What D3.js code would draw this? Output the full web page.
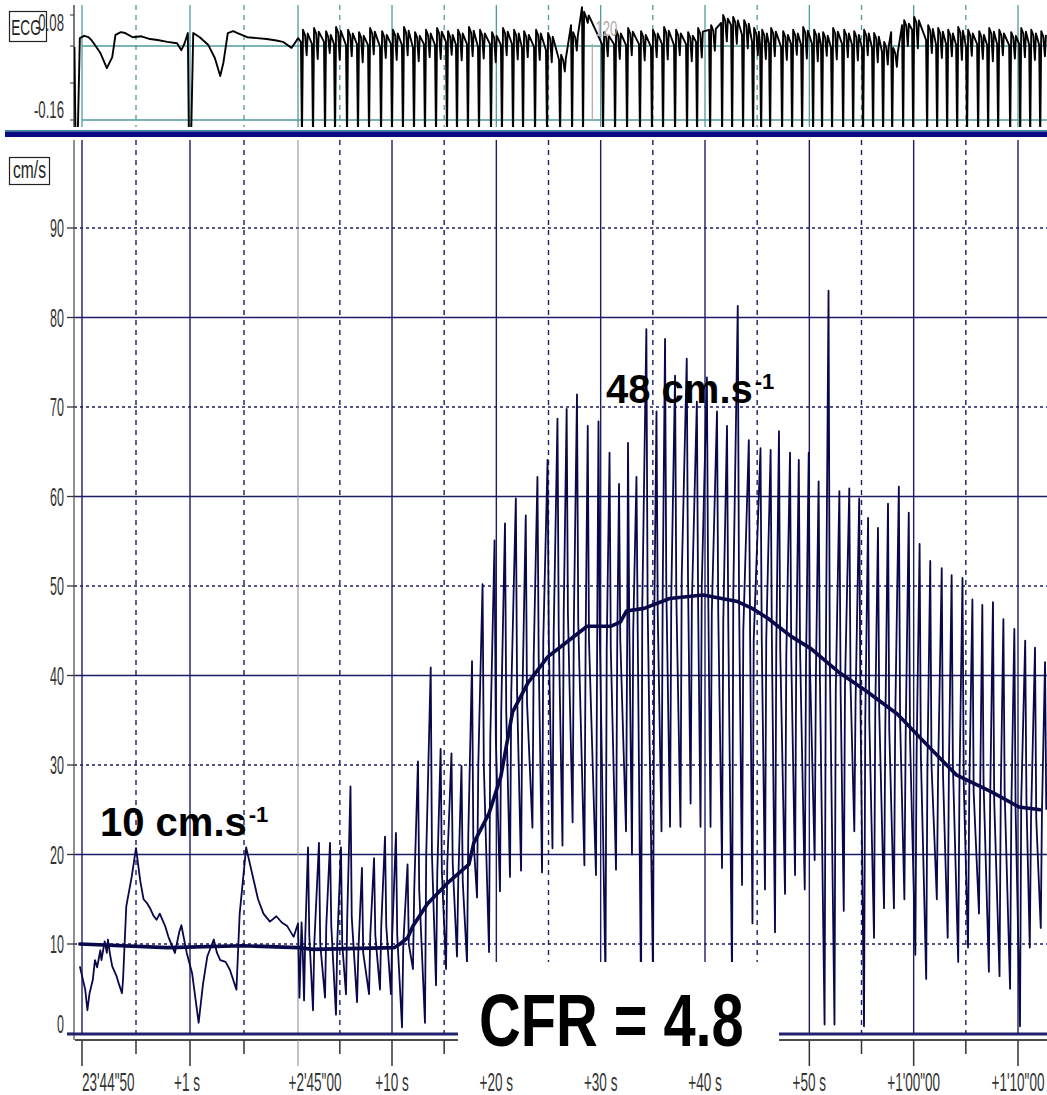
<!DOCTYPE html>
<html><head><meta charset="utf-8">
<script src="https://cdn.jsdelivr.net/npm/d3@7"></script>
<style>body{margin:0;background:#fff;} svg{display:block;}</style>
</head><body>
<svg id="c" width="1047" height="1095"></svg>
<script>
// ---------------- DATA ----------------
// time axis (display seconds; a break follows t = 2)
const majorTicks = [0, 1, 2, 12, 22, 32, 42, 52, 62, 72];
const majorLabels = ["23'44\"50", "+1 s", "+2'45\"00", "+10 s", "+20 s", "+30 s", "+40 s", "+50 s", "+1'00\"00", "+1'10\"00"];
const minorTicks = [0.5, 1.5, 7, 17, 27, 37, 47, 57, 67];
const velTicks = [0, 10, 20, 30, 40, 50, 60, 70, 80, 90];
const ecgTicks = [0.08, 0, -0.08, -0.16];

// Doppler velocity trace before the break [t, cm/s]
const flowPre = [[-0.02,7.5],[0.03,4.9],[0.05,2.6],[0.07,4.5],[0.1,6.0],[0.12,8.2],[0.14,7.4],[0.17,9.3],[0.18,8.2],[0.21,10.3],[0.23,9.0],[0.24,10.5],[0.26,8.8],[0.28,7.5],[0.32,6.4],[0.34,5.6],[0.37,4.5],[0.38,6.0],[0.41,14.2],[0.46,17.5],[0.5,20.7],[0.54,17.0],[0.57,15.0],[0.6,14.6],[0.63,14.0],[0.66,13.2],[0.69,12.7],[0.72,13.4],[0.77,12.0],[0.8,10.8],[0.86,9.0],[0.9,11.3],[0.92,12.1],[0.97,9.0],[1.02,6.7],[1.08,1.2],[1.12,5.5],[1.16,8.6],[1.22,10.5],[1.25,9.0],[1.28,8.2],[1.33,8.0],[1.37,7.1],[1.43,4.9],[1.46,13.4],[1.52,20.8],[1.59,17.1],[1.63,15.0],[1.68,13.4],[1.74,12.5],[1.8,13.1],[1.85,12.4],[1.9,12.0],[1.96,10.8],[2.0,12.3]];
// Doppler beats after the break [trough t, trough cm/s, peak t, peak cm/s, mid-level cm/s]
const flowBeats = [
[3.13,4.0,3.33,12.4,9],[3.57,3.7,3.95,20.8,11],[4.43,2.6,5.00,21.3,10],[5.58,4.0,6.06,21.3,12],[6.63,2.1,7.11,20.8,10],
[7.59,4.4,8.02,27.6,13],[8.65,3.5,9.12,18.5,9],[9.80,4.4,10.28,19.6,11],[10.85,4.9,11.33,22.0,12],[11.90,4.4,12.38,22.4,11],
[12.96,0.7,13.49,18.9,10],[14.01,7.2,14.49,30.4,16],[15.16,1.2,15.71,40.9,20],[16.22,5.4,16.66,31.8,18],[17.18,7.2,17.70,31.3,19],
[18.23,8.6,18.66,29.9,17],[19.19,7.9,19.67,41.6,22],[20.15,15.2,20.68,50.2,30],[21.30,9.1,21.83,55.1,33],[22.35,15.9,22.83,57.0,36],
[23.31,17.5,23.87,59.8,38],[24.37,18.2,24.82,57.9,37],[25.46,23.0,25.94,62.2,42],[26.38,18.0,26.91,64.1,44],[27.38,20.7,27.86,68.7,45],
[28.34,21.0,28.74,69.8,47],[29.31,23.6,29.73,71.4,46],[30.44,18.8,30.76,67.9,44],[31.55,17.7,31.79,68.4,45],[32.46,6.0,32.85,64.9,43],
[33.47,18.3,33.76,61.4,44],[34.43,22.6,34.62,66.0,46],[35.00,20.0,35.43,62.2,45],[35.87,4.0,36.38,78.7,48],[37.02,6.0,37.35,69.5,47],
[37.83,22.6,38.17,77.6,50],[38.65,23.1,39.13,73.5,49],[39.65,23.1,40.25,75.4,51],[40.62,25.7,41.22,70.6,48],[41.57,23.1,42.18,73.3,50],
[42.53,23.1,43.15,69.5,47],[43.63,18.5,44.11,67.9,46],[44.59,6.0,45.14,81.3,49],[45.55,16.6,46.20,66.3,45],[46.55,12.3,47.32,65.4,44],
[47.75,16.1,48.29,65.2,44],[48.71,11.3,49.09,67.3,43],[49.67,15.6,50.15,64.9,42],[50.63,17.7,50.99,64.1,43],[51.56,16.1,51.94,64.9,41],
[52.51,19.4,52.89,61.7,40],[53.46,1.0,53.84,83.0,42],[54.41,1.0,54.88,60.6,38],[55.30,13.7,55.83,60.9,39],[56.31,22.6,56.78,59.8,37],
[57.24,0.8,57.63,57.6,35],[58.20,10.7,58.58,56.5,36],[59.16,14.0,59.54,59.2,34],[60.11,14.0,60.58,61.1,35],[61.11,15.0,61.53,58.2,33],
[62.16,8.8,62.57,54.7,31],[63.20,6.1,63.59,52.8,30],[64.22,15.0,64.69,52.0,29],[65.26,10.7,65.64,51.2,30],[66.27,8.0,66.68,50.9,28],
[67.21,9.6,67.63,48.5,27],[68.26,13.4,68.58,47.9,28],[69.21,6.9,69.60,48.2,26],[70.23,6.4,70.60,46.3,27],[71.24,5.0,71.65,45.2,25],
[72.19,0.8,72.69,43.9,26],[73.13,9.6,73.63,43.1,24],[74.18,11.8,74.59,41.5,25]];
// mean velocity [t, cm/s]
const meanFlow = [[-0.02,10.0],[0.79,9.6],[1.49,9.8],[2.0,9.6],[4.43,9.4],[12.23,9.6],[12.77,10.0],[13.5,10.7],[14.01,12.0],
[15.4,14.5],[17.31,16.8],[19.37,18.9],[19.84,21.3],[21.3,24.6],[22.43,28.7],[23.55,35.9],[25.04,39.2],[26.95,42.1],
[28.82,43.8],[30.7,45.5],[32.96,45.5],[33.9,46.0],[34.47,47.2],[36.16,47.5],[38.61,48.6],[41.81,49.0],[45.01,48.3],
[46.52,47.5],[48.02,46.4],[50.22,44.4],[52.15,43.0],[54.79,40.4],[57.42,38.3],[60.43,35.7],[63.07,32.5],[66.08,28.9],
[69.46,27.0],[72.1,25.3],[74.11,25.0]];
// ECG before the break [t, mV]
const ecgPre = [[-0.07,-0.002],[-0.06,-0.2],[-0.04,-0.2],[-0.02,0.017],[0.02,0.022],[0.06,0.019],[0.09,0.012],[0.12,0.002],[0.17,-0.015],[0.23,-0.048],
[0.28,-0.024],[0.31,0.024],[0.36,0.030],[0.4,0.028],[0.47,0.019],[0.55,0.021],[0.63,0.015],[0.7,0.013],[0.79,0.009],[0.88,0.006],[0.92,-0.009],[0.95,0.006],
[0.98,0.028],[0.99,-0.2],[1.01,-0.2],[1.03,0.028],[1.09,0.019],[1.17,0.002],[1.23,-0.026],[1.28,-0.065],[1.31,-0.035],
[1.35,0.028],[1.4,0.032],[1.44,0.028],[1.53,0.019],[1.62,0.017],[1.71,0.015],[1.8,0.012],[1.86,0.009],[1.94,-0.004],[1.97,0.006],[2.0,0.017]];
// ECG beats after the break [R time, level after R, T-dip level, level before next R]
const ecgBeats = [
[3.37,0.035,-0.020,0.009],[4.43,0.039,-0.028,0.004],[5.58,0.032,-0.015,0.009],[6.54,0.041,-0.030,0.004],[7.69,0.035,-0.022,0.002],[8.74,0.030,-0.035,0.004],
[9.80,0.039,-0.018,0.002],[10.95,0.032,-0.026,-0.002],[12.00,0.035,-0.030,0.004],[13.05,0.041,-0.020,0.002],[14.11,0.030,-0.033,-0.004],[15.16,0.035,-0.024,0.004],
[16.22,0.039,-0.028,0.002],[17.27,0.032,-0.019,0.009],[18.23,0.035,-0.031,0.002],[19.28,0.041,-0.022,0.004],[20.34,0.035,-0.027,-0.002],[21.49,0.030,-0.035,0.004],
[22.54,0.039,-0.020,0.002],[23.60,0.035,-0.029,0.004],[24.56,0.032,-0.024,-0.004],[25.71,0.035,-0.030,-0.002],[26.86,0.028,-0.035,-0.009],[28.11,-0.019,-0.055,-0.030],
[29.26,0.030,-0.010,0.045],[30.31,0.074,0.050,0.084],[32.23,0.030,-0.022,0.004],[33.38,0.035,-0.028,0.004],[34.53,0.039,-0.020,0.002],[35.77,0.032,-0.031,0.004],
[36.92,0.035,-0.024,-0.002],[37.98,0.041,-0.029,0.004],[39.13,0.035,-0.020,0.002],[40.28,0.030,-0.033,0.004],[41.24,0.039,-0.025,0.009],[42.49,0.045,-0.010,0.035],
[43.64,0.067,0.010,0.050],[44.60,0.063,0.005,0.045],[45.65,0.056,-0.005,0.024],[46.61,0.039,-0.020,0.009],[47.38,0.035,-0.028,0.002],[48.24,0.039,-0.022,0.004],
[49.39,0.032,-0.030,-0.002],[50.35,0.035,-0.019,0.004],[51.31,0.041,-0.027,0.002],[52.36,0.035,-0.033,0.004],[53.22,0.030,-0.021,0.002],[54.18,0.039,-0.029,-0.004],
[55.24,0.035,-0.024,0.004],[56.20,0.032,-0.031,0.002],[57.15,0.035,-0.020,-0.004],[58.11,0.028,-0.035,-0.004],[59.07,0.009,-0.040,-0.013],[59.94,-0.004,-0.045,0.030],
[60.99,0.056,0.000,0.045],[61.95,0.063,-0.005,0.035],[63.29,0.045,-0.015,0.013],[64.25,0.039,-0.026,0.002],[65.21,0.035,-0.022,0.004],[66.17,0.041,-0.030,0.002],
[67.12,0.035,-0.021,-0.002],[68.18,0.032,-0.028,0.004],[69.14,0.039,-0.033,0.002],[70.10,0.035,-0.020,0.004],[71.25,0.030,-0.027,0.002],[72.21,0.039,-0.024,0.004],
[73.17,0.035,-0.030,0.002],[74.13,0.032,-0.022,0.002]];
const markerT = 31.2, markerLabel = "120";

// ---------------- DRAW ----------------
const svg = d3.select('#c');
const NAVY = '#1c1c64', TRACE = '#08084a', TEAL = '#4f9b9e';
const FONT = '"Liberation Sans", Arial, sans-serif';

const x = d3.scaleLinear().domain([0, 2, 2.99, 72]).range([82, 298, 298, 1018]);
const y = d3.scaleLinear().domain([0, 90]).range([1033.5, 228]);
const ye = d3.scaleLinear().domain([-0.16, 0]).range([120, 46]);

const defs = svg.append('defs');
defs.append('clipPath').attr('id', 'cm').append('rect').attr('x', 74).attr('y', 140).attr('width', 973).attr('height', 894);
defs.append('clipPath').attr('id', 'ce').append('rect').attr('x', 74).attr('y', 4).attr('width', 973).attr('height', 123);

function ctext(g, px, py, txt, anchor, sx, size, fill) {
  return g.append('text').attr('transform', `translate(${px},${py}) scale(${sx},1)`)
    .attr('text-anchor', anchor).attr('font-family', FONT).attr('font-size', size)
    .attr('fill', fill || '#333').text(txt);
}

// ===== ECG panel =====
const ge = svg.append('g');
majorTicks.forEach((t) => {
  ge.append('line').attr('x1', x(t)).attr('x2', x(t)).attr('y1', 5).attr('y2', 127)
    .attr('stroke', TEAL).attr('stroke-width', 1.3);
});
minorTicks.forEach(t => {
  ge.append('line').attr('x1', x(t)).attr('x2', x(t)).attr('y1', 5).attr('y2', 127)
    .attr('stroke', TEAL).attr('stroke-width', 1.3).attr('stroke-dasharray', '5,5');
});
[0, -0.16].forEach(v => {
  ge.append('line').attr('x1', 82).attr('x2', 1047).attr('y1', ye(v)).attr('y2', ye(v))
    .attr('stroke', TEAL).attr('stroke-width', 1.5);
});
ge.append('line').attr('x1', 74).attr('x2', 74).attr('y1', 5).attr('y2', 127).attr('stroke', '#333').attr('stroke-width', 1.3);
ecgTicks.forEach(v => {
  const py = Math.max(15, ye(v));
  ge.append('line').attr('x1', 70).attr('x2', 74).attr('y1', py).attr('y2', py).attr('stroke', '#333');
});
ctext(ge, 64, 31, '0.08', 'end', 0.55, 24);
ctext(ge, 64, 118, '-0.16', 'end', 0.55, 24);
ge.append('rect').attr('x', 9.5).attr('y', 11.5).attr('width', 37).attr('height', 30).attr('fill', 'none').attr('stroke', '#222').attr('stroke-width', 1.2);
ctext(ge, 26, 35, 'ECG', 'middle', 0.62, 22, '#222');

// ECG trace
const ecgPts = ecgPre.slice();
ecgBeats.forEach(b => {
  ecgPts.push([b[0] - 0.1, b[3]]);
  ecgPts.push([b[0], -0.2]);
  ecgPts.push([b[0] + 0.1, b[1]]);
  ecgPts.push([b[0] + 0.3, b[1] - 0.012]);
  ecgPts.push([b[0] + 0.45, b[2]]);
  ecgPts.push([b[0] + 0.55, b[1] - 0.008]);
});
ge.append('path').attr('clip-path', 'url(#ce)')
  .attr('d', d3.line().x(d => x(d[0])).y(d => ye(d[1]))(ecgPts))
  .attr('fill', 'none').attr('stroke', '#000').attr('stroke-width', 1.9).attr('stroke-linejoin', 'round');

// marker
ge.append('line').attr('x1', x(markerT)).attr('x2', x(markerT)).attr('y1', 44).attr('y2', 120).attr('stroke', '#b9aaaa').attr('stroke-width', 1.3);
ctext(ge, x(markerT) + 3, 36, markerLabel, 'start', 0.6, 22, '#b9aaaa');

// separator
svg.append('rect').attr('x', 5).attr('y', 130).attr('width', 1042).attr('height', 1.5).attr('fill', '#3b8c9a');
svg.append('rect').attr('x', 5).attr('y', 131.5).attr('width', 1042).attr('height', 5.5).attr('fill', '#0a0a82');

// ===== Main panel =====
const gm = svg.append('g');
velTicks.forEach(v => {
  if (v === 0) return;
  const solid = v % 20 === 0;
  gm.append('line').attr('x1', 74).attr('x2', 1047).attr('y1', y(v)).attr('y2', y(v))
    .attr('stroke', NAVY).attr('stroke-width', solid ? 1.7 : 1.5)
    .attr('stroke-dasharray', solid ? null : '3,3');
});
majorTicks.forEach((t, i) => {
  gm.append('line').attr('x1', x(t)).attr('x2', x(t)).attr('y1', 140).attr('y2', 1033)
    .attr('stroke', i === 2 ? '#8585a8' : NAVY).attr('stroke-width', i === 2 ? 1 : 1.4);
});
minorTicks.forEach(t => {
  gm.append('line').attr('x1', x(t)).attr('x2', x(t)).attr('y1', 140).attr('y2', 1033)
    .attr('stroke', NAVY).attr('stroke-width', 1.4).attr('stroke-dasharray', '5,5');
});
gm.append('line').attr('x1', 74).attr('x2', 74).attr('y1', 140).attr('y2', 1040).attr('stroke', '#555').attr('stroke-width', 1.3);
velTicks.forEach(v => {
  gm.append('line').attr('x1', 67).attr('x2', 74).attr('y1', y(v)).attr('y2', y(v)).attr('stroke', '#333').attr('stroke-width', 1.3);
  ctext(gm, 64, y(v) + 9 - (v === 0 ? 10 : 0), String(v), 'end', 0.5, 25);
});
gm.append('rect').attr('x', 9.5).attr('y', 157.5).attr('width', 40).attr('height', 27).attr('fill', 'none').attr('stroke', '#222').attr('stroke-width', 1.2);
ctext(gm, 29.5, 178, 'cm/s', 'middle', 0.65, 24, '#222');

// Doppler trace
const flowPts = flowPre.slice();
flowBeats.forEach(b => {
  flowPts.push([b[0], b[1]]);
  flowPts.push([b[0] + 0.12, b[4]]);
  flowPts.push([b[2], b[3]]);
  flowPts.push([b[2] + 0.12, b[4]]);
});
gm.append('path').attr('clip-path', 'url(#cm)')
  .attr('d', d3.line().x(d => x(d[0])).y(d => y(d[1]))(flowPts))
  .attr('fill', 'none').attr('stroke', TRACE).attr('stroke-width', 1.8).attr('stroke-linejoin', 'round');
// mean velocity
gm.append('path').attr('clip-path', 'url(#cm)')
  .attr('d', d3.line().x(d => x(d[0])).y(d => y(d[1]))(meanFlow))
  .attr('fill', 'none').attr('stroke', TRACE).attr('stroke-width', 3.6).attr('stroke-linejoin', 'round').attr('stroke-linecap', 'round');

// bottom axis
gm.append('line').attr('x1', 67).attr('x2', 1047).attr('y1', 1034).attr('y2', 1034).attr('stroke', '#22226e').attr('stroke-width', 3);
gm.append('line').attr('x1', 75).attr('x2', 1047).attr('y1', 1040).attr('y2', 1040).attr('stroke', '#111').attr('stroke-width', 1.6);
majorTicks.forEach((t, i) => {
  gm.append('line').attr('x1', x(t)).attr('x2', x(t)).attr('y1', 1040).attr('y2', 1066)
    .attr('stroke', i === 2 ? '#888' : '#333').attr('stroke-width', i === 2 ? 1 : 1.5);
  const anchor = i === 0 ? 'start' : 'middle';
  const dx = i === 2 ? 17 : (i === 1 ? -3 : 0);
  ctext(gm, x(t) + dx, 1091, majorLabels[i], anchor, 0.52, 26);
});
minorTicks.forEach(t => {
  gm.append('line').attr('x1', x(t)).attr('x2', x(t)).attr('y1', 1040).attr('y2', 1054).attr('stroke', '#333').attr('stroke-width', 1.5);
});

// annotations
function velNote(px, py, txt) {
  const t = svg.append('text').attr('x', px).attr('y', py).attr('font-family', FONT)
    .attr('font-weight', 'bold').attr('font-size', 40).attr('fill', '#000');
  t.append('tspan').text(txt);
  t.append('tspan').attr('dy', -14).attr('dx', 2).attr('font-size', 22).text('-1');
}
velNote(100, 836, '10 cm.s');
velNote(606, 403, '48 cm.s');

// CFR box
svg.append('rect').attr('x', 458).attr('y', 962).attr('width', 321).attr('height', 106).attr('fill', '#fff');
svg.append('text').attr('transform', 'translate(479,1046) scale(0.77,1)').attr('font-family', FONT)
  .attr('font-weight', 'bold').attr('font-size', 75).attr('fill', '#000').text('CFR = 4.8');
</script>
</body></html>
